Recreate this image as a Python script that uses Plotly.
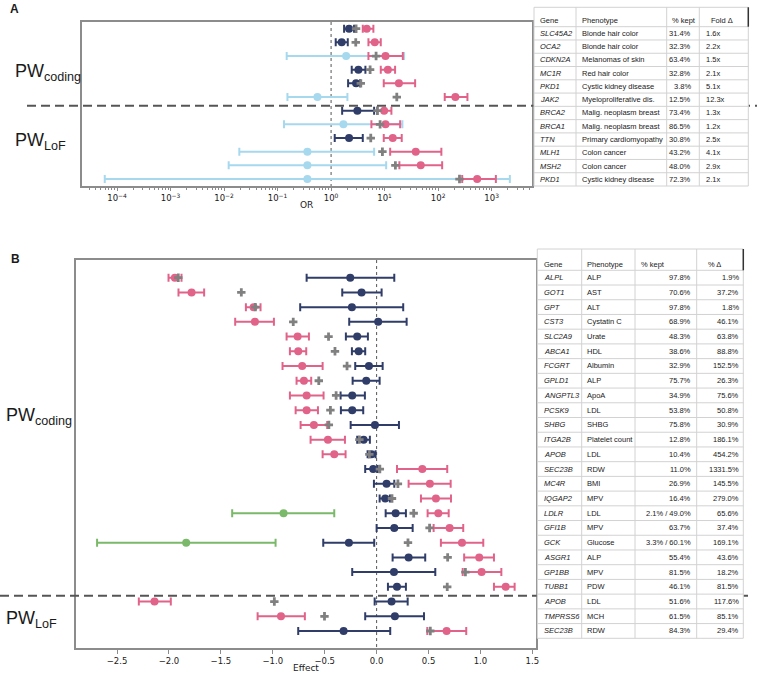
import plotly.graph_objects as go

W, H = 757, 676

# ------------------------------------------------------------------
# Panel A : odds ratios
# ------------------------------------------------------------------
genes_a = ["SLC45A2", "OCA2", "CDKN2A", "MC1R", "PKD1", "JAK2",
           "BRCA2", "BRCA1", "TTN", "MLH1", "MSH2", "PKD1"]
pheno_a = ["Blonde hair color", "Blonde hair color", "Melanomas of skin", "Red hair color",
           "Cystic kidney disease", "Myeloproliferative dis.", "Malig. neoplasm breast",
           "Malig. neoplasm breast", "Primary cardiomyopathy", "Colon cancer",
           "Colon cancer", "Cystic kidney disease"]
kept_a = ["31.4%", "32.3%", "63.4%", "32.8%", "3.8%", "12.5%",
          "73.4%", "86.5%", "30.8%", "43.2%", "48.0%", "72.3%"]
fold_a = ["1.6x", "2.2x", "1.5x", "2.1x", "5.1x", "12.3x",
          "1.3x", "1.2x", "2.5x", "4.1x", "2.9x", "2.1x"]

# all variants (navy = significant, light blue = not)
or_all = [2.17, 1.58, 1.91, 3.24, 2.93, 0.556, 3.10, 1.70, 2.17, 0.361, 0.361, 0.361]
or_all_lo = [1.75, 1.22, 0.148, 2.43, 2.08, 0.153, 1.61, 0.132, 1.17, 0.0193, 0.0122, 0.000059]
or_all_hi = [2.69, 2.05, 23.1, 4.38, 3.48, 2.02, 6.37, 21.5, 3.91, 6.37, 10.7, 2190]
sig_a = [True, True, False, True, True, False, True, False, True, False, False, False]
# kept variants (pink)
or_kept = [4.64, 6.55, 10.4, 11.5, 18.5, 210, 9.8, 10.4, 14.2, 38.2, 47.4, 537]
or_kept_lo = [3.91, 4.99, 4.99, 8.48, 9.64, 133, 7.34, 5.67, 9.64, 12.7, 18.9, 282]
or_kept_hi = [6.17, 8.48, 21.9, 15.7, 37.2, 353, 13.4, 19.5, 20.9, 115, 119, 1200]
# reference estimate (gray plus)
or_gray = [2.93, 2.89, 6.93, 5.36, 3.59, 16.9, 7.34, 8.24, 5.51, 9.11, 15.9, 251]

# ------------------------------------------------------------------
# Panel B : effects
# ------------------------------------------------------------------
genes_b = ["ALPL", "GOT1", "GPT", "CST3", "SLC2A9", "ABCA1", "FCGRT", "GPLD1", "ANGPTL3",
           "PCSK9", "SHBG", "ITGA2B", "APOB", "SEC23B", "MC4R", "IQGAP2", "LDLR", "GFI1B",
           "GCK", "ASGR1", "GP1BB", "TUBB1", "APOB", "TMPRSS6", "SEC23B"]
pheno_b = ["ALP", "AST", "ALT", "Cystatin C", "Urate", "HDL", "Albumin", "ALP", "ApoA", "LDL",
           "SHBG", "Platelet count", "LDL", "RDW", "BMI", "MPV", "LDL", "MPV", "Glucose", "ALP",
           "MPV", "PDW", "LDL", "MCH", "RDW"]
kept_b = ["97.8%", "70.6%", "97.8%", "68.9%", "48.3%", "38.6%", "32.9%", "75.7%", "34.9%",
          "53.8%", "75.8%", "12.8%", "10.4%", "11.0%", "26.9%", "16.4%", "2.1% / 49.0%",
          "63.7%", "3.3% / 60.1%", "55.4%", "81.5%", "46.1%", "51.6%", "61.5%", "84.3%"]
delta_b = ["1.9%", "37.2%", "1.8%", "46.1%", "63.8%", "88.8%", "152.5%", "26.3%", "75.6%",
           "50.8%", "30.9%", "186.1%", "454.2%", "1331.5%", "145.5%", "279.0%", "65.6%",
           "37.4%", "169.1%", "43.6%", "18.2%", "81.5%", "117.6%", "85.1%", "29.4%"]

eff_all = [-0.254, -0.145, -0.238, 0.015, -0.187, -0.173, -0.074, -0.100, -0.235, -0.235,
           -0.016, -0.125, -0.048, -0.033, 0.096, 0.083, 0.183, 0.170, -0.267, 0.308,
           0.167, 0.196, 0.144, 0.176, -0.318]
eff_all_lo = [-0.674, -0.331, -0.736, -0.264, -0.296, -0.238, -0.206, -0.231, -0.347, -0.344,
              -0.250, -0.187, -0.087, -0.110, -0.026, 0.029, 0.087, 0.000, -0.514, 0.154,
              -0.235, 0.109, -0.019, -0.110, -0.755]
eff_all_hi = [0.170, 0.048, 0.256, 0.289, -0.084, -0.110, 0.058, 0.029, -0.113, -0.129,
              0.215, -0.065, -0.010, 0.010, 0.170, 0.128, 0.282, 0.347, -0.023, 0.468,
              0.565, 0.282, 0.299, 0.456, 0.131]

eff_kept = [-1.943, -1.782, -1.185, -1.172, -0.761, -0.755, -0.717, -0.700, -0.674, -0.674,
            -0.604, -0.469, -0.408, 0.440, 0.513, 0.571, 0.594, 0.703, 0.822, 0.988,
            1.011, 1.243, -2.139, -0.921, 0.674]
eff_kept_lo = [-2.004, -1.908, -1.259, -1.362, -0.867, -0.835, -0.906, -0.771, -0.835, -0.780,
               -0.732, -0.636, -0.520, 0.196, 0.308, 0.427, 0.491, 0.549, 0.619, 0.843,
               0.829, 1.130, -2.290, -1.146, 0.488]
eff_kept_hi = [-1.879, -1.661, -1.118, -0.989, -0.652, -0.678, -0.520, -0.630, -0.511, -0.565,
               -0.476, -0.305, -0.299, 0.680, 0.713, 0.716, 0.694, 0.834, 1.027, 1.130,
               1.201, 1.329, -1.982, -0.691, 0.863]

eff_gray = [-1.910, -1.303, -1.168, -0.803, -0.463, -0.401, -0.285, -0.557, -0.390, -0.445,
            -0.460, -0.166, -0.070, 0.031, 0.205, 0.148, 0.357, 0.510, 0.302, 0.684,
            0.855, 0.680, -0.985, -0.502, 0.517]

# second estimate for genes with two variant groups (green)
alt_rows = [16, 18]
eff_alt = [-0.896, -1.834]
eff_alt_lo = [-1.391, -2.692]
eff_alt_hi = [-0.408, -0.973]

NAVY = "#2f3d68"
LBLUE = "#a6d8ee"
PINK = "#e1638a"
GREEN = "#7bb96a"
GRAY = "#808080"
AXC = "#8c8c8c"
TXT = "#1a1a1a"
TICKFONT = dict(family="DejaVu Sans", size=8.5, color=TXT)
TABFONT = dict(family="Liberation Sans, Arial", size=7.5, color=TXT)


def px(x):
    return x / W


def py(y):
    return 1 - y / H


def err_trace(xs, ys, lo, hi, color, xa, ya):
    return go.Scatter(
        x=xs, y=ys, mode="markers", xaxis=xa, yaxis=ya, showlegend=False,
        marker=dict(color=color, size=8),
        error_x=dict(type="data", symmetric=False,
                     array=[h - v for h, v in zip(hi, xs)],
                     arrayminus=[v - l for v, l in zip(xs, lo)],
                     color=color, thickness=2, width=4),
    )


fig = go.Figure()

# ---- panel A traces ----
fig.add_trace(go.Scatter(x=[1, 1], y=[-0.49, 11.51], mode="lines", showlegend=False,
                         line=dict(color="#555", width=1, dash="dot"), xaxis="x", yaxis="y"))
for flag, col in [(True, NAVY), (False, LBLUE)]:
    idx = [i for i in range(len(genes_a)) if sig_a[i] == flag]
    fig.add_trace(err_trace([or_all[i] for i in idx], idx,
                            [or_all_lo[i] for i in idx], [or_all_hi[i] for i in idx],
                            col, "x", "y"))
fig.add_trace(err_trace(or_kept, list(range(len(genes_a))), or_kept_lo, or_kept_hi,
                        PINK, "x", "y"))
fig.add_trace(go.Scatter(x=or_gray, y=list(range(len(genes_a))), mode="markers",
                         showlegend=False, xaxis="x", yaxis="y",
                         marker=dict(symbol="cross", size=7, color=GRAY)))

# ---- panel B traces ----
nb = len(genes_b)
fig.add_trace(go.Scatter(x=[0, 0], y=[-1.2, 25.2], mode="lines", showlegend=False,
                         line=dict(color="#555", width=1, dash="dot"), xaxis="x2", yaxis="y2"))
fig.add_trace(err_trace(eff_alt, alt_rows, eff_alt_lo, eff_alt_hi, GREEN, "x2", "y2"))
fig.add_trace(err_trace(eff_all, list(range(nb)), eff_all_lo, eff_all_hi, NAVY, "x2", "y2"))
fig.add_trace(err_trace(eff_kept, list(range(nb)), eff_kept_lo, eff_kept_hi, PINK, "x2", "y2"))
fig.add_trace(go.Scatter(x=eff_gray, y=list(range(nb)), mode="markers", showlegend=False,
                         xaxis="x2", yaxis="y2",
                         marker=dict(symbol="cross", size=7, color=GRAY)))

# ---- axes ----
dec = list(range(-4, 4))
minor_vals = [m * 10.0 ** k for k in range(-5, 4) for m in range(2, 10)]
axis_common = dict(showline=True, linecolor=AXC, linewidth=1.5, mirror=True,
                   showgrid=False, zeroline=False, automargin=False)
fig.update_layout(
    xaxis=dict(domain=[px(81.7), px(531.5)], anchor="y", type="log", range=[-4.66, 3.745],
               tickmode="array", tickvals=[10.0 ** d for d in dec],
               ticktext=["10<sup>" + str(d).replace("-", "\u2212") + "</sup>" for d in dec],
               ticks="outside", ticklen=3.5, tickcolor=AXC, tickfont=TICKFONT,
               minor=dict(tickvals=minor_vals, ticks="outside", ticklen=2, tickcolor=AXC),
               **axis_common),
    yaxis=dict(domain=[py(186), py(22)], anchor="x", range=[11.51, -0.49],
               showticklabels=False, ticks="", **axis_common),
    xaxis2=dict(domain=[px(76), px(535.5)], anchor="y2", range=[-2.895, 1.53],
                tickmode="array", tickvals=[-2.5, -2.0, -1.5, -1.0, -0.5, 0.0, 0.5, 1.0, 1.5],
                ticktext=["\u22122.5", "\u22122.0", "\u22121.5", "\u22121.0", "\u22120.5",
                          "0.0", "0.5", "1.0", "1.5"],
                ticks="outside", ticklen=3.5, tickcolor=AXC, tickfont=TICKFONT,
                **axis_common),
    yaxis2=dict(domain=[py(648.3), py(260)], anchor="x2", range=[24 + 17.3 / 14.72, -17.7 / 14.72],
                showticklabels=False, ticks="", **axis_common),
)

annotations = []
shapes = []


def label(x, y, text, size, xanchor="left", yanchor="middle", family="Liberation Sans, Arial",
          **kw):
    annotations.append(dict(x=px(x), y=py(y), xref="paper", yref="paper", text=text,
                            showarrow=False, xanchor=xanchor, yanchor=yanchor,
                            font=dict(family=family, size=size, color=TXT), **kw))


# panel letters and group labels
label(8, 9, "<b>A</b>", 12)
label(9, 259, "<b>B</b>", 12)
label(13, 73, "PW<sub>coding</sub>", 18)
label(13, 142, "PW<sub>LoF</sub>", 18)
label(4, 416, "PW<sub>coding</sub>", 18)
label(4, 619, "PW<sub>LoF</sub>", 18)
label((81.7 + 531.5) / 2, 205, "OR", 9, xanchor="center", family="DejaVu Sans")
label((76 + 535.5) / 2, 668, "Effect", 9, xanchor="center", family="DejaVu Sans")

# dashed group separators
for x0, x1, y in [(27, 757, 105.7), (0, 748, 595.7)]:
    shapes.append(dict(type="line", xref="paper", yref="paper", x0=px(x0), x1=px(x1),
                       y0=py(y), y1=py(y), layer="above",
                       line=dict(color="#555", width=2, dash="9px,5px")))


def draw_table(cols, top, head_bottom, row_h, headers, head_pos, columns, specs):
    nrows = len(columns[0])
    bottom = head_bottom + row_h * nrows
    shapes.append(dict(type="rect", xref="paper", yref="paper", x0=px(cols[0]), x1=px(cols[-1]),
                       y0=py(bottom), y1=py(top), fillcolor="white", layer="above",
                       line=dict(color="#d2d2d2", width=1)))
    for c in cols[1:-1]:
        shapes.append(dict(type="line", xref="paper", yref="paper", x0=px(c), x1=px(c),
                           y0=py(bottom), y1=py(top), layer="above",
                           line=dict(color="#d2d2d2", width=1)))
    for r in range(nrows):
        yy = head_bottom + r * row_h
        shapes.append(dict(type="line", xref="paper", yref="paper", x0=px(cols[0]),
                           x1=px(cols[-1]), y0=py(yy), y1=py(yy), layer="above",
                           line=dict(color="#d2d2d2", width=1)))
    shapes.append(dict(type="line", xref="paper", yref="paper", x0=px(cols[-1]),
                       x1=px(cols[-1]), y0=py(head_bottom), y1=py(top), layer="above",
                       line=dict(color="#333", width=1.5)))
    for h, hx in zip(headers, head_pos):
        annotations.append(dict(x=px(hx), y=py(head_bottom - 6), xref="paper", yref="paper",
                                text=h, showarrow=False, xanchor="left", yanchor="middle",
                                font=TABFONT))
    for vals, (anchor, xx, ital) in zip(columns, specs):
        for r, v in enumerate(vals):
            annotations.append(dict(x=px(xx), y=py(head_bottom + (r + 0.5) * row_h),
                                    xref="paper", yref="paper",
                                    text="<i>%s</i>" % v if ital else v,
                                    showarrow=False, xanchor=anchor, yanchor="middle",
                                    font=TABFONT))


draw_table([534, 576, 666.7, 699.3, 748.3], 7.3, 26.7, (186 - 26.7) / 12,
           ["Gene", "Phenotype", "% kept", "Fold \u0394"], [538, 580, 670, 709],
           [genes_a, pheno_a, kept_a, fold_a],
           [("left", 538, True), ("left", 580, False), ("right", 692.7, False),
            ("left", 704, False)])
draw_table([537.3, 581.7, 635, 696.7, 743.3], 249, 270.3, 14.72,
           ["Gene", "Phenotype", "% kept", "% \u0394"], [541.5, 585, 638.5, 706],
           [genes_b, pheno_b, kept_b, delta_b],
           [("left", 541.5, True), ("left", 585, False), ("right", 692.7, False),
            ("right", 741, False)])

fig.update_layout(
    width=W, height=H, margin=dict(l=0, r=0, t=0, b=0),
    paper_bgcolor="white", plot_bgcolor="white", showlegend=False,
    annotations=annotations, shapes=shapes,
)

# the page body has a default margin; remove it so the figure sits at the window origin
fig.write_html("out.html", config={"displayModeBar": False},
               post_script="document.body.style.margin='0';document.body.style.overflow='hidden';")
